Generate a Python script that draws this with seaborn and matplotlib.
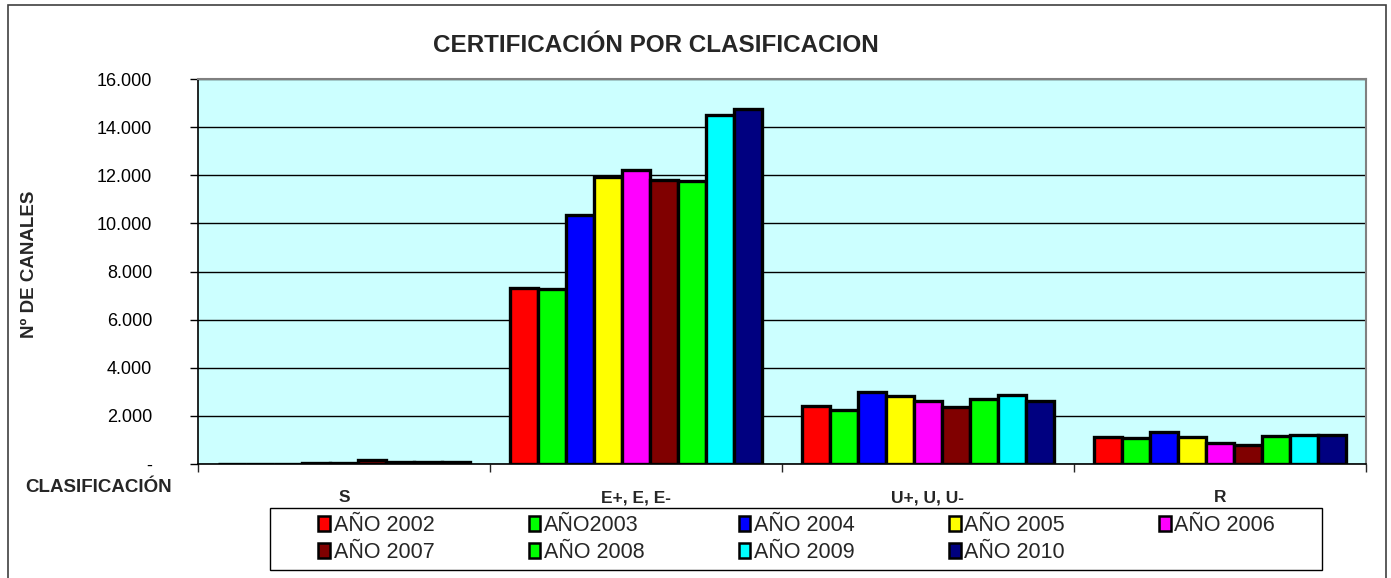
import matplotlib
matplotlib.use("Agg")
import matplotlib.pyplot as plt
import matplotlib.ticker as mticker
from matplotlib.patches import Patch, Rectangle
import seaborn as sns
import pandas as pd

categories = ["S", "E+, E, E-", "U+, U, U-", "R"]
years = ["AÑO 2002", "AÑO2003", "AÑO 2004", "AÑO 2005", "AÑO 2006",
         "AÑO 2007", "AÑO 2008", "AÑO 2009", "AÑO 2010"]
colors = ["#FF0000", "#00FF00", "#0000FF", "#FFFF00", "#FF00FF",
          "#800000", "#00FF00", "#00FFFF", "#000080"]
vals_S = [20, 20, 20, 25, 60, 180, 95, 65, 80]
vals_E = [7330, 7260, 10330, 11920, 12200, 11810, 11770, 14520, 14750]
vals_U = [2430, 2250, 3010, 2830, 2610, 2350, 2710, 2870, 2600]
vals_R = [1135, 1090, 1325, 1120, 855, 800, 1175, 1215, 1190]
yticks = [0, 2000, 4000, 6000, 8000, 10000, 12000, 14000, 16000]

rows = []
for cat, vals in zip(categories, [vals_S, vals_E, vals_U, vals_R]):
    for yr, v in zip(years, vals):
        rows.append({"cat": cat, "year": yr, "val": v})
df = pd.DataFrame(rows)

sns.set_style("white")
plt.rcParams["font.family"] = ["Liberation Sans", "DejaVu Sans"]

W, H = 1391, 578
fig = plt.figure(figsize=(W / 100, H / 100), dpi=100)
ax = fig.add_axes([198 / W, 1 - 464 / H, (1366 - 198) / W, (464 - 79) / H])
ax.set_facecolor("#CCFFFF")

sns.barplot(data=df, x="cat", y="val", hue="year", order=categories,
            hue_order=years, palette=colors, width=0.86, edgecolor="black",
            linewidth=2.4, ax=ax, legend=False, saturation=1, zorder=3)

ax.set_xlim(-0.5, 3.5)
ax.set_ylim(0, 16000)
ax.set_yticks(yticks)
ax.yaxis.set_major_formatter(mticker.FuncFormatter(
    lambda v, p: "-" if v == 0 else f"{int(v):,}".replace(",", ".")))
ax.yaxis.grid(True, color="black", linewidth=1.0, zorder=0)
ax.set_axisbelow(True)
ax.tick_params(axis="y", which="major", direction="out", length=6,
               width=1, pad=27, labelsize=13, colors="black", left=True)
ax.set_xticks(range(len(categories)))
ax.set_xticklabels(categories, fontweight="bold", fontsize=12.5)
ax.set_xticks([-0.5, 0.5, 1.5, 2.5, 3.5], minor=True)
ax.tick_params(axis="x", which="major", length=0, pad=19)
ax.tick_params(axis="x", which="minor", direction="out", length=6, width=1,
               bottom=True)
ax.set_xlabel("")
ax.set_ylabel("")
for s in ["left", "bottom"]:
    ax.spines[s].set_color("black")
    ax.spines[s].set_linewidth(1.2)
for s in ["top", "right"]:
    ax.spines[s].set_color("#808080")
    ax.spines[s].set_linewidth(1.5)

fig.text(656 / W, 1 - 45 / H, "CERTIFICACIÓN POR CLASIFICACION",
         ha="center", va="center", fontsize=17.5, fontweight="bold")
fig.text(29 / W, 1 - 264 / H, "Nº DE CANALES", rotation=90, ha="center",
         va="center", fontsize=13.5, fontweight="bold")
fig.text(99 / W, 1 - 487 / H, "CLASIFICACIÓN", ha="center", va="center",
         fontsize=13.5, fontweight="bold")

# matplotlib fills legend columns first; reorder so rows read 2002..2006 / 2007..2010
order = [0, 5, 1, 6, 2, 7, 3, 8, 4]
handles = [Patch(facecolor=colors[i], edgecolor="black", linewidth=1.8)
           for i in order]
labels = [years[i] for i in order]
leg = fig.legend(handles, labels, ncol=5, mode="expand", loc="center",
                 bbox_to_anchor=(312 / W, 8 / H, (1281 - 312) / W, 62 / H),
                 bbox_transform=fig.transFigure, fontsize=15.5,
                 frameon=False, handlelength=0.55,
                 handleheight=0.7, handletextpad=0.15, labelspacing=0.3,
                 borderpad=0.3, borderaxespad=0)
fig.patches.append(Rectangle((270 / W, 1 - 570 / H), (1322 - 270) / W,
                             62 / H, transform=fig.transFigure, fill=False,
                             edgecolor="black", linewidth=1.0))

fig.patches.append(Rectangle((8 / W, -0.05), (1386 - 8) / W, 1.05 - 5 / H,
                             transform=fig.transFigure, fill=False,
                             edgecolor="#404040", linewidth=1.2))

fig.savefig("out.png", dpi=100, facecolor="white")
